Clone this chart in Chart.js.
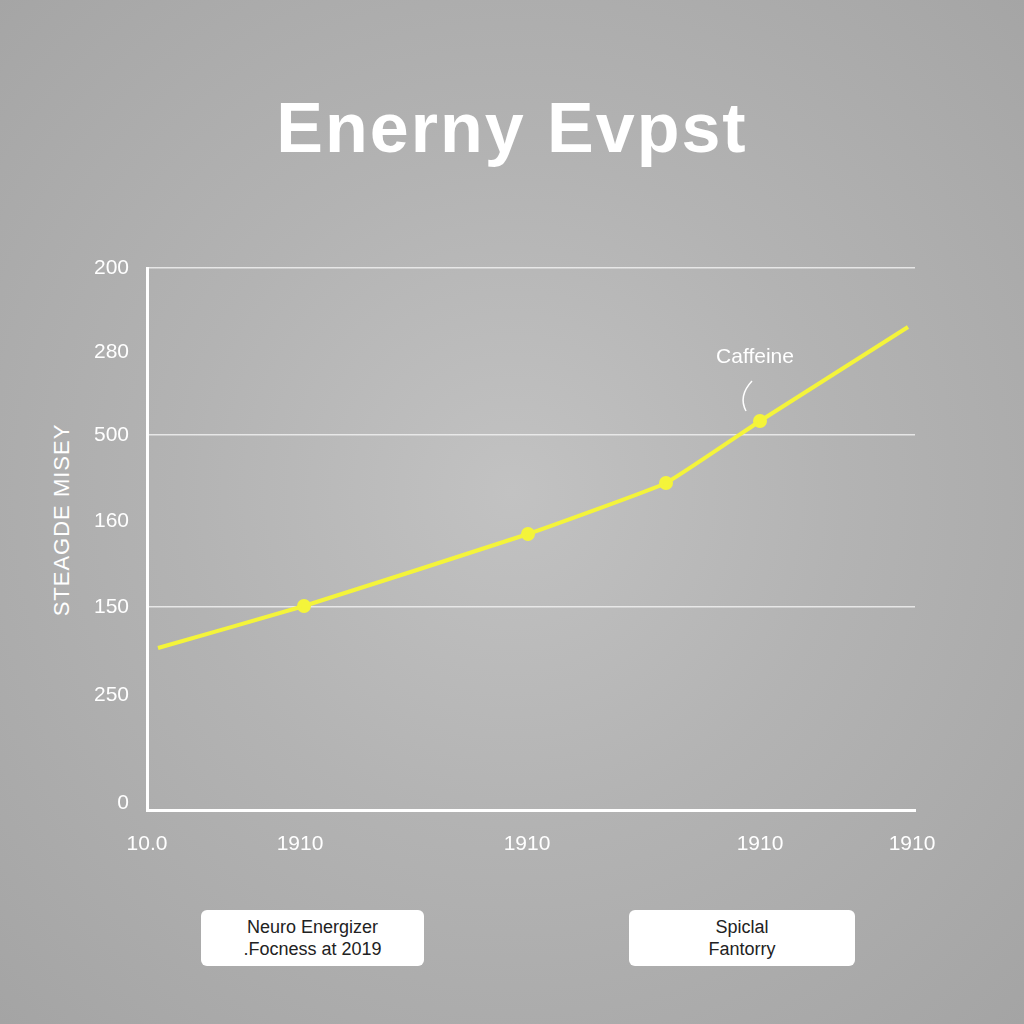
<!DOCTYPE html>
<html><head><meta charset="utf-8">
<script src="https://cdn.jsdelivr.net/npm/chart.js@4/dist/chart.umd.min.js"></script>
<style>
html,body{margin:0;width:1024px;height:1024px;overflow:hidden;font-family:"Liberation Sans",Arial,sans-serif}
body{background:radial-gradient(circle at 50% 48%,#c2c2c2 0%,#b3b3b3 45%,#a4a4a4 100%)}
#wrap{position:absolute;left:0;top:0;width:1024px;height:1024px}
h1{position:absolute;top:88px;left:0;width:1024px;text-align:center;margin:0;color:#fff;font:bold 70px "Liberation Sans",Arial,sans-serif;letter-spacing:2px}
.box{position:absolute;top:910px;height:56px;background:#fff;border-radius:6px;color:#222;font-size:18px;text-align:center;line-height:22px;display:flex;flex-direction:column;justify-content:center}
#ytitle{position:absolute;left:62px;top:520px;transform:translate(-50%,-50%) rotate(-90deg);color:#fff;font-size:22px;white-space:nowrap;letter-spacing:1px}
</style></head><body>
<h1>Enerny Evpst</h1>
<div id="ytitle">STEAGDE MISEY</div>
<div id="wrap"><canvas id="c" width="1024" height="1024"></canvas></div>
<div class="box" style="left:201px;width:223px"><div>Neuro Energizer</div><div>.Focness at 2019</div></div>
<div class="box" style="left:629px;width:226px"><div>Spiclal</div><div>Fantorry</div></div>
<script>
const xTickValues=[0,153,380,613,765];
const xTickLabels=["10.0","1910","1910","1910","1910"];
const yTickValues=[7,115,203,289,375,458,542];
const yTickLabels=["0","250","150","160","500","280","200"];
const gridShown=["200","500","150"];
const seriesX=[11,157,381,519,613,761];
const seriesY=[162,204,276,327,389,483];
const pointSizes=[0,5,5,5,5,0];
const annotation={label:"Caffeine",index:4};

const annot={id:'annot',afterDatasetsDraw(ch){
 const m=ch.getDatasetMeta(0).data[annotation.index];const c=ch.ctx;
 c.save();c.fillStyle='#fff';c.font='21px "Liberation Sans",Arial';c.textAlign='center';
 c.fillText(annotation.label,m.x-5,m.y-58);
 c.strokeStyle='#fff';c.lineWidth=1.5;c.beginPath();
 c.moveTo(m.x-8,m.y-40);c.quadraticCurveTo(m.x-22,m.y-25,m.x-14,m.y-10);c.stroke();
 c.restore();}};
new Chart(document.getElementById('c'),{type:'line',
 data:{datasets:[{data:seriesX.map((x,i)=>({x,y:seriesY[i]})),borderColor:'#f4f43a',borderWidth:4,
  pointRadius:pointSizes,pointBackgroundColor:'#f4f43a',pointBorderColor:'#f4f43a',tension:0.1}]},
 options:{responsive:false,animation:false,
  layout:{padding:{top:268,right:109,bottom:134,left:0}},
  plugins:{legend:{display:false},tooltip:{enabled:false}},
  scales:{
   x:{type:'linear',min:0,max:768,afterFit:s=>{s.height=80},
    afterBuildTicks:s=>{s.ticks=xTickValues.map(v=>({value:v}))},
    ticks:{color:'#fff',font:{size:21},padding:14,callback:(v)=>xTickLabels[xTickValues.indexOf(v)]},
    grid:{display:false},border:{color:'#fff',width:3}},
   y:{type:'linear',min:0,max:542,afterFit:s=>{s.width=147},
    afterBuildTicks:s=>{s.ticks=yTickValues.map(v=>({value:v}))},
    ticks:{color:'#fff',font:{size:21},padding:18,callback:(v)=>yTickLabels[yTickValues.indexOf(v)]},
    grid:{drawTicks:false,lineWidth:1.5,color:c=>gridShown.includes(yTickLabels[c.index])?'rgba(240,240,240,0.85)':'rgba(0,0,0,0)'},
    border:{color:'#fff',width:3}}}},
 plugins:[annot]});
</script></body></html>
